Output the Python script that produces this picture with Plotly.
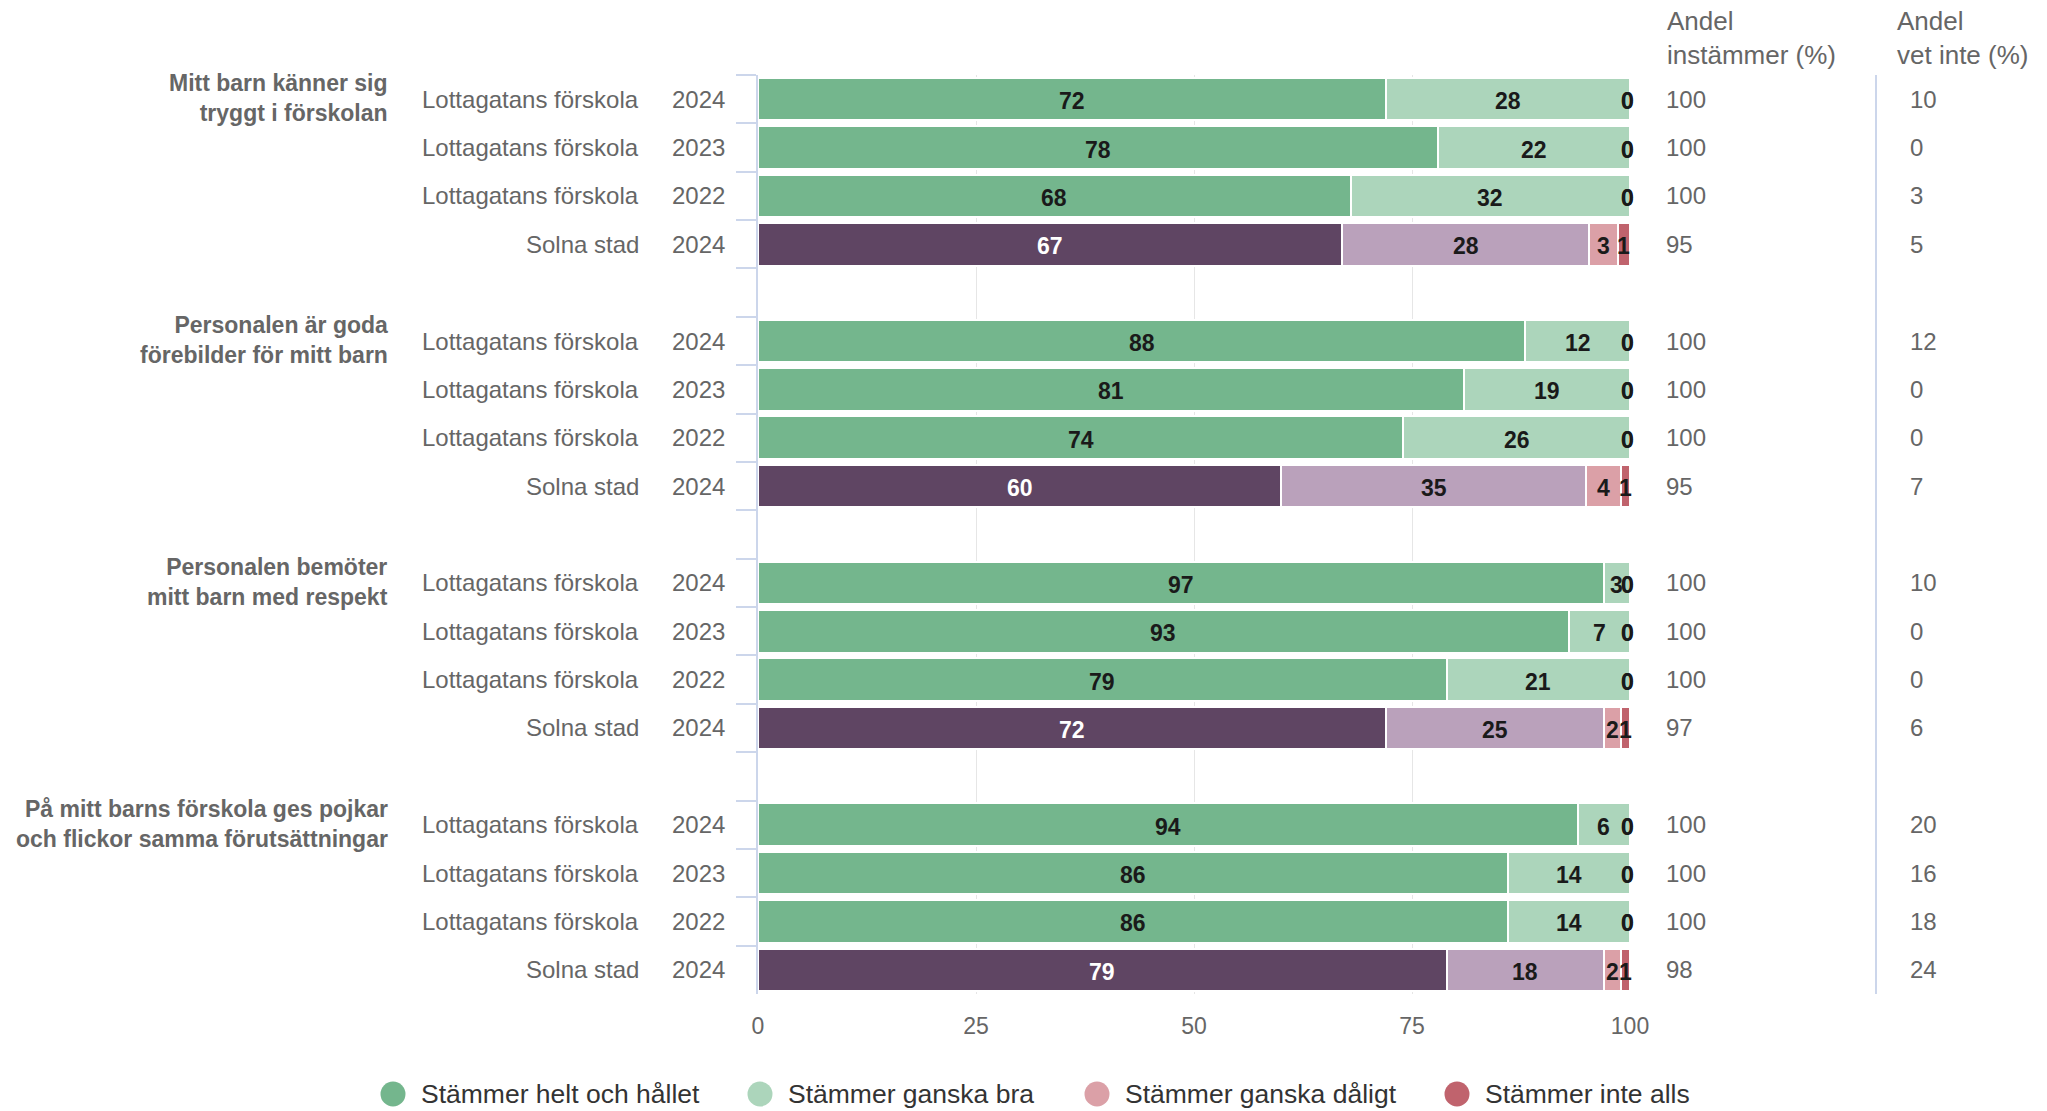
import plotly.graph_objects as go

# ---------------- data ----------------
groups = [
    "Mitt barn känner sig<br>tryggt i förskolan",
    "Personalen är goda<br>förebilder för mitt barn",
    "Personalen bemöter<br>mitt barn med respekt",
    "På mitt barns förskola ges pojkar<br>och flickor samma förutsättningar",
]
units = ["Lottagatans förskola", "Lottagatans förskola", "Lottagatans förskola", "Solna stad"]
years = ["2024", "2023", "2022", "2024"]
series_names = ["Stämmer helt och hållet", "Stämmer ganska bra",
                "Stämmer ganska dåligt", "Stämmer inte alls"]

helt = [72, 78, 68, 67.0, 88, 81, 74, 60, 97, 93, 79, 72, 94, 86, 86, 79]
ganska_bra = [28, 22, 32, 28.3, 12, 19, 26, 35, 3, 7, 21, 25, 6, 14, 14, 18]
ganska_daligt = [0, 0, 0, 3.3, 0, 0, 0, 4, 0, 0, 0, 2, 0, 0, 0, 2]
inte_alls = [0, 0, 0, 1.4, 0, 0, 0, 1, 0, 0, 0, 1, 0, 0, 0, 1]

andel_instammer = [100, 100, 100, 95, 100, 100, 100, 95, 100, 100, 100, 97, 100, 100, 100, 98]
andel_vet_inte = [10, 0, 3, 5, 12, 0, 0, 7, 10, 0, 0, 6, 20, 16, 18, 24]

header_instammer = "Andel<br>instämmer (%)"
header_vet_inte = "Andel<br>vet inte (%)"
x_ticks = [0, 25, 50, 75, 100]

# ---------------- styling ----------------
lotta_colors = ["#74B68D", "#ACD5BB", "#DBA0A7", "#C0636D"]
solna_colors = ["#5F4563", "#BAA1BB", "#DBA0A7", "#C0636D"]
FONT = "Liberation Sans, Arial, Helvetica, sans-serif"
LABEL_SIZE = 23

W_FIG, H_FIG = 2047, 1111
L, R, T, B = 758, 1630, 75, 994
PW, PH = R - L, B - T


def px_x(px):
    return (px - L) / PW


def px_y(py):
    return (B - py) / PH


# ---------------- categories ----------------
row_keys = []
cat_order = []
for g in range(len(groups)):
    for r in range(len(units)):
        k = f"g{g}r{r}"
        row_keys.append(k)
        cat_order.append(k)
    if g < len(groups) - 1:
        cat_order.append(f"gap{g}")

all_series = [helt, ganska_bra, ganska_daligt, inte_alls]
n_rows = len(row_keys)
is_solna = [units[i % len(units)] == "Solna stad" for i in range(n_rows)]

fig = go.Figure()

for s, vals in enumerate(all_series):
    colors = [solna_colors[s] if is_solna[i] else lotta_colors[s] for i in range(n_rows)]
    fig.add_trace(go.Bar(
        x=vals, y=row_keys, orientation="h", name=series_names[s],
        marker=dict(color=colors, line=dict(color="white", width=2)),
        showlegend=False, hoverinfo="skip",
    ))

annotations = []

# data labels (positions follow the percent stacking of the bars; nudged inside plot edge)
totals = [sum(ser[i] for ser in all_series) for i in range(n_rows)]
cum = [0.0] * n_rows
for s, vals in enumerate(all_series):
    for i in range(n_rows):
        start = 100.0 * cum[i] / totals[i]
        width = 100.0 * vals[i] / totals[i]
        cum[i] += vals[i]
        center = start + width / 2
        txt = f"{vals[i]:.0f}"
        half_w = len(txt) * 0.556 * LABEL_SIZE / 2
        right_px = L + center / 100 * PW + half_w
        shift = min(0.0, R + 4 - right_px)
        col = "white" if (s == 0 and is_solna[i]) else "#1a1a1a"
        annotations.append(dict(
            x=center, xref="x", y=row_keys[i], yref="y",
            text=txt, showarrow=False, xanchor="center", yanchor="middle",
            yshift=-2, xshift=shift,
            font=dict(family=FONT, size=LABEL_SIZE, color=col, weight="bold"),
        ))

for i, k in enumerate(row_keys):
    r = i % len(units)
    annotations.append(dict(x=px_x(641), xref="paper", y=k, yref="y", text=units[r],
                            xanchor="right", yanchor="middle", showarrow=False,
                            font=dict(family=FONT, size=24, color="#666666")))
    annotations.append(dict(x=px_x(727), xref="paper", y=k, yref="y", text=years[r],
                            xanchor="right", yanchor="middle", showarrow=False,
                            font=dict(family=FONT, size=24, color="#666666")))
    annotations.append(dict(x=px_x(1664), xref="paper", y=k, yref="y", text=str(andel_instammer[i]),
                            xanchor="left", yanchor="middle", showarrow=False,
                            font=dict(family=FONT, size=24, color="#666666")))
    annotations.append(dict(x=px_x(1908), xref="paper", y=k, yref="y", text=str(andel_vet_inte[i]),
                            xanchor="left", yanchor="middle", showarrow=False,
                            font=dict(family=FONT, size=24, color="#666666")))

for g, gl in enumerate(groups):
    annotations.append(dict(x=px_x(390), xref="paper", y=row_keys[g * len(units)], yref="y",
                            text=gl, xanchor="right", yanchor="middle", align="right",
                            showarrow=False, yshift=1,
                            font=dict(family=FONT, size=23, color="#666666", weight="bold")))

for hx, ht in [(1665, header_instammer), (1895, header_vet_inte)]:
    annotations.append(dict(x=px_x(hx), xref="paper", y=px_y(38), yref="paper", text=ht,
                            xanchor="left", yanchor="middle", align="left", showarrow=False,
                            font=dict(family=FONT, size=26, color="#666666")))

# legend (manual, circular symbols)
legend_cx = [393, 760, 1097, 1457]
legend_cy = 1094
legend_colors = lotta_colors
shapes = []
for j, name in enumerate(series_names):
    shapes.append(dict(type="circle", xref="paper", yref="paper",
                       xsizemode="pixel", ysizemode="pixel",
                       xanchor=px_x(legend_cx[j]), yanchor=px_y(legend_cy),
                       x0=-12.5, x1=12.5, y0=-12.5, y1=12.5,
                       fillcolor=legend_colors[j], line=dict(width=0)))
    annotations.append(dict(x=px_x(legend_cx[j] + 26), xref="paper", y=px_y(legend_cy), yref="paper",
                            text=name, xanchor="left", yanchor="middle", showarrow=False,
                            font=dict(family=FONT, size=26.5, color="#333333")))

shapes.append(dict(type="line", xref="paper", yref="paper",
                   x0=px_x(1876), x1=px_x(1876), y0=0, y1=1,
                   line=dict(color="#ccd6eb", width=2)))

fig.update_layout(
    width=W_FIG, height=H_FIG,
    margin=dict(l=L, r=W_FIG - R, t=T, b=H_FIG - B, pad=0),
    paper_bgcolor="white", plot_bgcolor="white",
    barmode="stack", barnorm="percent", bargap=0.12,
    showlegend=False,
    annotations=annotations, shapes=shapes,
    xaxis=dict(range=[0, 100], tickvals=x_ticks, ticktext=[str(v) for v in x_ticks],
               showgrid=True, gridcolor="#e6e6e6", gridwidth=1, zeroline=False,
               showline=False, ticks="", ticklabelstandoff=16,
               tickfont=dict(family=FONT, size=23, color="#666666"), fixedrange=True),
    yaxis=dict(type="category", categoryorder="array", categoryarray=cat_order,
               range=[len(cat_order) - 0.5, -0.5], showticklabels=False,
               ticks="outside", tickson="boundaries", ticklen=20, tickwidth=2,
               tickcolor="#ccd6eb", showline=True, linecolor="#ccd6eb", linewidth=2,
               showgrid=False, zeroline=False, fixedrange=True),
    font=dict(family=FONT),
)

fig.write_html("out.html", config={"displayModeBar": False},
               post_script="document.body.style.margin='0';")
